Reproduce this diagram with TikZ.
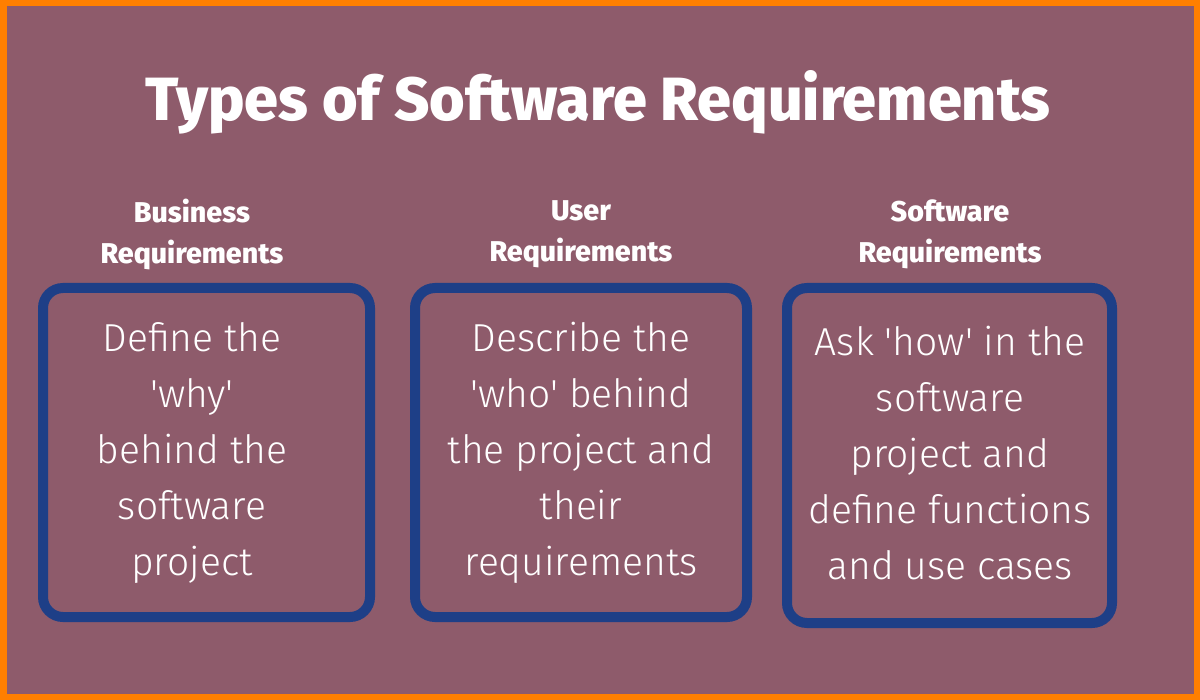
\documentclass[tikz,border=0pt]{standalone}
\usepackage{fontspec}
\setmainfont{Fira Sans}
\newfontfamily\bodyfont{Fira Sans Light}
\newfontfamily\headfont{Fira Sans}[UprightFont=* ExtraBold]
\newfontfamily\titlefont{Fira Sans}[UprightFont=* ExtraBold]
\definecolor{bgplum}{HTML}{8E5B6B}
\definecolor{frameorange}{HTML}{FF7F00}
\definecolor{boxblue}{HTML}{1E3F87}
\tikzset{
  reqbox/.style={draw=boxblue, line width=5pt, rounded corners=10pt},
  heading/.style={text=white, align=center, font=\headfont\fontsize{14.3}{20.5}\selectfont},
  bodytext/.style={text=white, align=center, font=\bodyfont\fontsize{19.5}{28}\selectfont},
}
\begin{document}
\begin{tikzpicture}[x=0.5pt, y=-0.5pt]
  % page frame and background
  \fill[frameorange] (0,0) rectangle (1200,700);
  \fill[bgplum] (7,6) rectangle (1194,694);
  \useasboundingbox (0,0) rectangle (1200,700);

  \node[text=white, font=\titlefont\fontsize{30.5}{36}\selectfont] (title) at (598,102) {Types of Software Requirements};

  % column headings
  \node[heading] (h1) at (192,234) {Business\\Requirements};
  \node[heading] (h2) at (581,234) {User\\Requirements};
  \node[heading] (h3) at (950,234) {Software\\Requirements};

  % requirement boxes
  \draw[reqbox] (43,288) rectangle (370,617);
  \draw[reqbox] (415,288) rectangle (747,617);
  \draw[reqbox] (787,288) rectangle (1112,623);

  \node[bodytext] (b1) at (192,453) {Define the\\'why'\\behind the\\software\\project};
  \node[bodytext] (b2) at (581,453) {Describe the\\'who' behind\\the project and\\their\\requirements};
  \node[bodytext] (b3) at (950,453) {Ask 'how' in the\\software\\project and\\define functions\\and use cases};
\end{tikzpicture}
\end{document}
